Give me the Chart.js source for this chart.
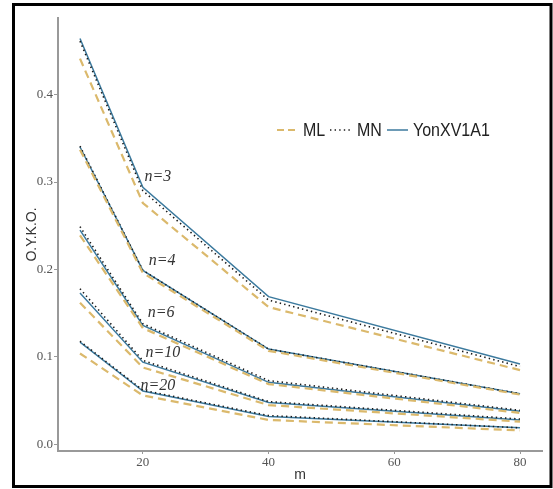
<!DOCTYPE html>
<html>
<head>
<meta charset="utf-8">
<script src="https://cdn.jsdelivr.net/npm/chart.js@4.4.1/dist/chart.umd.min.js"></script>
<style>
  html, body { margin: 0; padding: 0; background: #fff; }
  canvas { display: block; }
</style>
</head>
<body>
<canvas id="c" width="553" height="489"></canvas>
<script>
// ---- data ----
const mValues = [10, 20, 40, 80];
const xTickValues = [20, 40, 60, 80];
const yTickValues = [0.0, 0.1, 0.2, 0.3, 0.4];
const nLabels = ['n=3', 'n=4', 'n=6', 'n=10', 'n=20'];
const methodNames = ['ML', 'MN', 'YonXV1A1'];
const mlValues = [
  [0.441, 0.276, 0.157, 0.085],
  [0.337, 0.196, 0.107, 0.057],
  [0.239, 0.133, 0.069, 0.036],
  [0.162, 0.088, 0.045, 0.026],
  [0.104, 0.056, 0.028, 0.016]
];
const mnValues = [
  [0.461, 0.290, 0.165, 0.089],
  [0.341, 0.199, 0.109, 0.058],
  [0.249, 0.138, 0.073, 0.039],
  [0.178, 0.096, 0.049, 0.029],
  [0.118, 0.062, 0.033, 0.019]
];
const yonValues = [
  [0.464, 0.294, 0.169, 0.092],
  [0.340, 0.199, 0.109, 0.058],
  [0.245, 0.136, 0.071, 0.038],
  [0.173, 0.094, 0.048, 0.028],
  [0.117, 0.061, 0.032, 0.019]
];
// label anchor points (data units)
const nLabelX = [22.4, 23.05, 22.9, 23.2, 22.4];
const nLabelY = [0.3057, 0.2097, 0.1503, 0.1045, 0.0668];

// ---- styles ----
const styles = [
  { color: '#dbb96c', width: 2.2, dash: [8, 5] },
  { color: '#1a1a1a', width: 1.6, dash: [1.4, 3.2] },
  { color: '#3c7a9e', width: 1.5, dash: [] }
];
const seriesSets = [mlValues, mnValues, yonValues];

const datasets = [];
seriesSets.forEach((set, k) => {
  set.forEach((vals, i) => {
    datasets.push({
      label: methodNames[k] + ' ' + nLabels[i],
      data: mValues.map((m, j) => ({ x: m, y: vals[j] })),
      borderColor: styles[k].color,
      borderWidth: styles[k].width,
      borderDash: styles[k].dash,
      pointRadius: 0,
      fill: false,
      tension: 0
    });
  });
});

const decor = {
  id: 'decor',
  afterDatasetsDraw(chart) {
    const ctx = chart.ctx;
    const xs = chart.scales.x, ys = chart.scales.y;
    ctx.save();
    // n labels
    ctx.fillStyle = '#333';
    ctx.font = 'italic 16px "Liberation Serif", "DejaVu Serif", serif';
    ctx.textAlign = 'center';
    ctx.textBaseline = 'middle';
    nLabels.forEach((t, i) => {
      ctx.fillText(t, xs.getPixelForValue(nLabelX[i]), ys.getPixelForValue(nLabelY[i]));
    });
    // legend
    const ly = 130;
    const items = [
      { x0: 277, x1: 297, tx: 303 },
      { x0: 330, x1: 352, tx: 357 },
      { x0: 387, x1: 408, tx: 413 }
    ];
    ctx.font = '16px "Liberation Sans", Arial, sans-serif';
    ctx.textAlign = 'left';
    items.forEach((it, k) => {
      ctx.beginPath();
      ctx.strokeStyle = styles[k].color;
      ctx.lineWidth = styles[k].width;
      ctx.setLineDash(k === 0 ? [7, 4] : styles[k].dash);
      ctx.moveTo(it.x0, ly);
      ctx.lineTo(it.x1, ly);
      ctx.stroke();
      ctx.setLineDash([]);
      ctx.save();
      ctx.translate(it.tx, ly);
      ctx.scale(1, 1.2);
      ctx.fillStyle = '#222';
      ctx.fillText(methodNames[k], 0, 0.5);
      ctx.restore();
    });
    ctx.restore();
  },
  afterDraw(chart) {
    const ctx = chart.ctx;
    ctx.save();
    ctx.strokeStyle = '#000';
    ctx.lineWidth = 3;
    ctx.setLineDash([]);
    ctx.strokeRect(13.5, 4.5, 537.5, 482);
    ctx.restore();
  }
};

new Chart(document.getElementById('c'), {
  type: 'line',
  data: { datasets },
  options: {
    responsive: false,
    animation: false,
    devicePixelRatio: 1,
    layout: { padding: { top: 18, right: 11, left: 0, bottom: 0 } },
    plugins: { legend: { display: false }, tooltip: { enabled: false } },
    scales: {
      x: {
        type: 'linear',
        min: 6.5,
        max: 83.5,
        afterBuildTicks(s) { s.ticks = xTickValues.map(v => ({ value: v })); },
        afterFit(s) { s.height = 38; },
        grid: { drawOnChartArea: false, drawTicks: true, tickLength: 3, color: '#999', lineWidth: 1 },
        border: { display: true, color: '#999', width: 2 },
        ticks: {
          padding: 1,
          color: '#555',
          font: { family: '"Liberation Serif", "DejaVu Serif", serif', size: 13 },
          callback: v => String(v)
        },
        title: {
          display: true,
          text: 'm',
          color: '#333',
          font: { family: '"Liberation Sans", Arial, sans-serif', size: 14 },
          padding: { top: 0, bottom: 5 }
        }
      },
      y: {
        type: 'linear',
        min: -0.0075,
        max: 0.4875,
        afterBuildTicks(s) { s.ticks = yTickValues.map(v => ({ value: v })); },
        afterFit(s) { s.width = 58; },
        grid: { drawOnChartArea: false, drawTicks: true, tickLength: 4, color: '#999', lineWidth: 1 },
        border: { display: true, color: '#999', width: 2 },
        ticks: {
          padding: 1,
          color: '#555',
          font: { family: '"Liberation Serif", "DejaVu Serif", serif', size: 13 },
          callback: v => Number(v).toFixed(1)
        },
        title: {
          display: true,
          text: 'O.Y.K.O.',
          color: '#333',
          font: { family: '"Liberation Sans", Arial, sans-serif', size: 14 },
          padding: { top: 24, bottom: 0 }
        }
      }
    }
  },
  plugins: [decor]
});
</script>
</body>
</html>
